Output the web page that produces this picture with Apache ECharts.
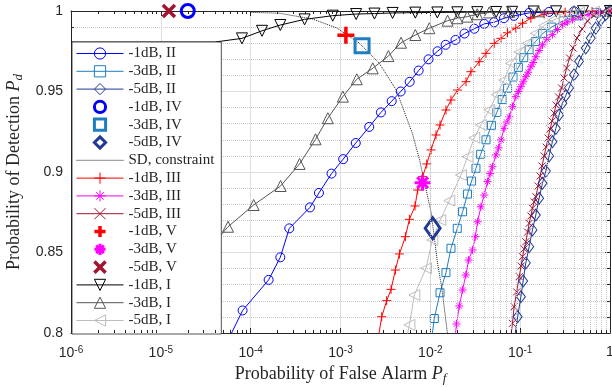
<!DOCTYPE html>
<html>
<head>
<meta charset="utf-8">
<script src="https://cdn.jsdelivr.net/npm/echarts@6/dist/echarts.min.js"></script>
<style>
html, body { margin: 0; padding: 0; background: #fff; }
#chart { width: 612px; height: 387px; }
</style>
</head>
<body>
<div id="chart"></div>
<script>
// ROC curves: log10(Pf) and Pd for every curve.
const lgPf_m1dB_II = [-4.30, -4.09, -3.80, -3.67, -3.57, -3.34, -3.24, -3.10, -2.97, -2.83, -2.68, -2.55, -2.43, -2.33, -2.23, -2.13, -2.02, -1.92, -1.83, -1.72, -1.62, -1.51, -1.40, -1.29, -1.18, -1.07, -0.90, -0.68, -0.40, 0];
const pd_m1dB_II = [0.790, 0.814, 0.833, 0.847, 0.865, 0.878, 0.887, 0.899, 0.908, 0.918, 0.928, 0.937, 0.944, 0.950, 0.956, 0.963, 0.970, 0.975, 0.979, 0.982, 0.986, 0.989, 0.992, 0.993, 0.9955, 0.997, 0.9988, 0.9994, 0.9998, 1];

const lgPf_m3dB_II = [-2.00, -1.956, -1.892, -1.826, -1.77, -1.70, -1.641, -1.586, -1.541, -1.492, -1.44, -1.38, -1.32, -1.26, -1.20, -1.14, -1.08, -1.02, -0.96, -0.90, -0.83, -0.75, -0.65, -0.52, -0.35, -0.15, 0];
const pd_m3dB_II = [0.790, 0.809, 0.825, 0.8375, 0.8526, 0.865, 0.8753, 0.8863, 0.8944, 0.9023, 0.911, 0.920, 0.929, 0.937, 0.945, 0.952, 0.959, 0.965, 0.971, 0.976, 0.981, 0.986, 0.990, 0.994, 0.997, 0.999, 1];

const lgPf_m5dB_II = [-1.08, -1.028, -0.992, -0.967, -0.937, -0.900, -0.863, -0.826, -0.789, -0.752, -0.714, -0.678, -0.641, -0.603, -0.567, -0.530, -0.492, -0.456, -0.400, -0.344, -0.270, -0.214, -0.159, -0.103, -0.048, 0];
const pd_m5dB_II = [0.790, 0.8101, 0.8225, 0.8323, 0.8435, 0.8536, 0.864, 0.8733, 0.8837, 0.893, 0.9006, 0.910, 0.9188, 0.9271, 0.9354, 0.9427, 0.9475, 0.9522, 0.9604, 0.9688, 0.977, 0.9832, 0.9894, 0.9946, 0.9977, 1];

// single operating points: order -1dB, -3dB, -5dB
const lgPf_IV = [-4.70, -2.76, -1.974];
const pd_IV = [1.0, 0.9784, 0.865];
const lgPf_V = [-2.94, -2.086, -4.91];
const pd_V = [0.985, 0.8934, 1.0];

const lgPf_SD = [-4.0, -3.68, -3.31, -3.04, -2.79, -2.57, -2.38, -2.20, -2.12, -2.07, -1.99, -1.92, -1.87, -1.81, -1.78];
const pd_SD = [0.9992, 0.9986, 0.995, 0.9894, 0.980, 0.9677, 0.951, 0.924, 0.9075, 0.895, 0.8745, 0.8435, 0.827, 0.800, 0.785];

const lgPf_m1dB_III = [-2.60, -2.541, -2.486, -2.437, -2.389, -2.344, -2.278, -2.233, -2.17, -2.141, -2.086, -2.04, -1.992, -1.937, -1.892, -1.826, -1.77, -1.697, -1.603, -1.548, -1.456, -1.381, -1.289, -1.214, -1.141, -1.048, -0.974, -0.881, -0.733, -0.50, -0.20, 0];
const pd_m1dB_III = [0.790, 0.8101, 0.8201, 0.8271, 0.8391, 0.8491, 0.8598, 0.8706, 0.8789, 0.8888, 0.8971, 0.905, 0.9137, 0.923, 0.9292, 0.9385, 0.9447, 0.9509, 0.9561, 0.9623, 0.9685, 0.9737, 0.9799, 0.983, 0.9865, 0.9893, 0.9924, 0.9955, 0.9981, 0.9993, 0.9998, 1];

const lgPf_m3dB_III = [-1.74, -1.708, -1.678, -1.641, -1.605, -1.574, -1.53, -1.50, -1.474, -1.437, -1.40, -1.363, -1.335, -1.308, -1.27, -1.24, -1.214, -1.178, -1.15, -1.122, -1.086, -1.048, -1.02, -0.992, -0.965, -0.937, -0.91, -0.881, -0.855, -0.826, -0.789, -0.752, -0.70, -0.641, -0.585, -0.53, -0.475, -0.419, -0.33, -0.233, -0.12, 0];
const pd_m3dB_III = [0.790, 0.8056, 0.8168, 0.8267, 0.836, 0.8453, 0.8516, 0.8598, 0.8691, 0.8784, 0.8857, 0.894, 0.899, 0.9033, 0.9106, 0.915, 0.9199, 0.9271, 0.931, 0.9343, 0.9406, 0.9468, 0.950, 0.953, 0.956, 0.9592, 0.962, 0.9654, 0.968, 0.9716, 0.9755, 0.979, 0.9825, 0.9853, 0.9885, 0.9915, 0.9932, 0.9946, 0.9965, 0.9978, 0.9992, 1];

const lgPf_m5dB_III = [-1.12, -1.086, -1.067, -1.039, -1.011, -0.989, -0.974, -0.956, -0.937, -0.917, -0.900, -0.881, -0.863, -0.844, -0.826, -0.800, -0.778, -0.756, -0.733, -0.711, -0.689, -0.667, -0.644, -0.622, -0.600, -0.572, -0.539, -0.511, -0.483, -0.450, -0.411, -0.367, -0.311, -0.250, -0.178, -0.089, 0];
const pd_m5dB_III = [0.790, 0.806, 0.8163, 0.8255, 0.835, 0.8416, 0.8474, 0.8522, 0.8567, 0.8627, 0.8681, 0.8727, 0.8775, 0.8814, 0.8847, 0.8913, 0.8975, 0.9037, 0.910, 0.9155, 0.9211, 0.9267, 0.9317, 0.9366, 0.9416, 0.9466, 0.9522, 0.9584, 0.9646, 0.9708, 0.977, 0.9832, 0.9888, 0.9938, 0.9972, 0.9991, 1];

// the first two points of -1dB, I carry no marker
const lgPf_m1dB_I = [-6.0, -4.40, -4.097, -3.874, -3.67, -3.40, -3.086, -2.826, -2.622, -2.42, -2.167, -1.922, -1.70, -1.478, -1.267, -1.089, -0.85, -0.60, -0.30, 0];
const pd_m1dB_I = [0.9807, 0.9807, 0.983, 0.9877, 0.9913, 0.9948, 0.9971, 0.9981, 0.9984, 0.9988, 0.999, 0.9991, 0.9992, 0.9993, 0.9994, 0.9995, 0.9997, 0.9998, 0.9999, 1];

const lgPf_m3dB_I = [-4.75, -4.50, -4.252, -3.967, -3.667, -3.456, -3.278, -3.141, -2.974, -2.819, -2.641, -2.467, -2.326, -2.167, -2.011, -1.808, -1.70, -1.589, -1.478, -1.344, -1.122, -0.80, -0.40, 0];
const pd_m3dB_I = [0.830, 0.850, 0.866, 0.8795, 0.8913, 0.905, 0.9203, 0.9334, 0.9468, 0.9576, 0.9644, 0.972, 0.9803, 0.9851, 0.9893, 0.994, 0.9955, 0.9965, 0.998, 0.9991, 0.9995, 0.9998, 0.9999, 1];

const lgPf_m5dB_I = [-2.29, -2.233, -2.178, -2.048, -1.978, -1.889, -1.789, -1.659, -1.586, -1.511, -1.437, -1.344, -1.26, -1.178, -1.103, -1.01, -0.919, -0.826, -0.733, -0.622, -0.50, -0.344, -0.178, 0];
const pd_m5dB_I = [0.790, 0.805, 0.8236, 0.8402, 0.8578, 0.8702, 0.8822, 0.8981, 0.9095, 0.9213, 0.9292, 0.9385, 0.948, 0.9571, 0.9675, 0.9745, 0.9799, 0.9861, 0.991, 0.9947, 0.9972, 0.9989, 0.9996, 1];

const xTickExp = [-6, -5, -4, -3, -2, -1, 0];

const INK = '#262626';
const SERIF = 'Liberation Serif';
const SANS = 'Liberation Sans';

const col = {
	blue: '#0000FF', lblue: '#1F7EC2', navy: '#203A94',
	red: '#FF0000', magenta: '#FF00FF', maroon: '#A2142F',
	black: '#000000', dgray: '#555555', lgray: '#BDBDBD', sd: '#1A1A1A',
};

const sym = {
	circle: 'circle',
	square: 'rect',
	diamond: 'diamond',
	plus: 'path://M5,0L5,10M0,5L10,5',
	cross: 'path://M0,0L10,10M10,0L0,10',
	star: 'path://M5,0L5,10M0,5L10,5M1.6,1.6L8.4,8.4M8.4,1.6L1.6,8.4',
	triUp: 'path://M5,0L10,8.66L0,8.66Z',
	triDown: 'path://M0,0L10,0L5,8.66Z',
	triLeft: 'path://M8.66,0L8.66,10L0,5Z',
};

const toPts = (lg, pd, bare) =>
	lg.map((e, i) => (i < (bare || 0) ? { value: [Math.pow(10, e), pd[i]], symbol: 'none' } : [Math.pow(10, e), pd[i]]));

// legend order = draw order
const defs = [
	{ name: '-1dB, II', data: toPts(lgPf_m1dB_II, pd_m1dB_II), color: col.blue, symbol: sym.circle, size: 9 },
	{ name: '-3dB, II', data: toPts(lgPf_m3dB_II, pd_m3dB_II), color: col.lblue, symbol: sym.square, size: 8 },
	{ name: '-5dB, II', data: toPts(lgPf_m5dB_II, pd_m5dB_II), color: col.navy, symbol: sym.diamond, size: [9, 12] },
	{ name: '-1dB, IV', data: toPts([lgPf_IV[0]], [pd_IV[0]]), color: col.blue, symbol: sym.circle, size: 13, bw: 3, point: true },
	{ name: '-3dB, IV', data: toPts([lgPf_IV[1]], [pd_IV[1]]), color: col.lblue, symbol: sym.square, size: 14, bw: 3, point: true },
	{ name: '-5dB, IV', data: toPts([lgPf_IV[2]], [pd_IV[2]]), color: col.navy, symbol: sym.diamond, size: [15, 21], bw: 3, point: true },
	{ name: 'SD, constraint', data: toPts(lgPf_SD, pd_SD), color: col.sd, symbol: 'none', size: 0, dotted: true },
	{ name: '-1dB, III', data: toPts(lgPf_m1dB_III, pd_m1dB_III), color: col.red, symbol: sym.plus, size: 9 },
	{ name: '-3dB, III', data: toPts(lgPf_m3dB_III, pd_m3dB_III), color: col.magenta, symbol: sym.star, size: 8 },
	{ name: '-5dB, III', data: toPts(lgPf_m5dB_III, pd_m5dB_III), color: col.maroon, symbol: sym.cross, size: 7 },
	{ name: '-1dB, V', data: toPts([lgPf_V[0]], [pd_V[0]]), color: col.red, symbol: sym.plus, size: 17, bw: 3.5, point: true },
	{ name: '-3dB, V', data: toPts([lgPf_V[1]], [pd_V[1]]), color: col.magenta, symbol: sym.star, size: 16, bw: 3, point: true },
	{ name: '-5dB, V', data: toPts([lgPf_V[2]], [pd_V[2]]), color: col.maroon, symbol: sym.cross, size: 12, bw: 3.5, point: true },
	{ name: '-1dB, I', data: toPts(lgPf_m1dB_I, pd_m1dB_I, 2), color: col.black, symbol: sym.triDown, size: 11 },
	{ name: '-3dB, I', data: toPts(lgPf_m3dB_I, pd_m3dB_I), color: col.dgray, symbol: sym.triUp, size: 11 },
	{ name: '-5dB, I', data: toPts(lgPf_m5dB_I, pd_m5dB_I), color: col.lgray, symbol: sym.triLeft, size: 11 },
];

const clear = 'rgba(0,0,0,0)';

const curves = defs.map((d) => ({
	name: d.name,
	type: 'line',
	data: d.data,
	symbol: d.symbol,
	symbolSize: d.size,
	showSymbol: d.symbol !== 'none',
	clip: !d.point,
	z: d.point ? 3 : 2,
	lineStyle: { color: d.color, width: d.point ? 0 : 1, type: d.dotted ? 'dotted' : 'solid' },
	itemStyle: { color: clear, borderColor: d.color, borderWidth: d.bw || 1 },
	emphasis: { disabled: true },
}));

// log-axis minor grid (2..9 x 10^k) and its inward ticks
const minorX = [];
for (let k = -6; k < 0; k++) for (let m = 2; m <= 9; m++) minorX.push(m * Math.pow(10, k));
const tickStyle = { color: INK, type: 'solid', width: 1 };
const gridSeries = {
	name: 'minor-grid',
	type: 'line',
	data: [],
	z: 1,
	silent: true,
	markLine: {
		silent: true,
		symbol: ['none', 'none'],
		label: { show: false },
		animation: false,
		lineStyle: { color: '#C8C8C8', type: 'dotted', width: 1 },
		data: [
			...minorX.map((v) => ({ xAxis: v })),
			...minorX.map((v) => [{ coord: [v, 0.8], lineStyle: tickStyle }, { coord: [v, 0.8019], lineStyle: tickStyle }]),
			...minorX.map((v) => [{ coord: [v, 1], lineStyle: tickStyle }, { coord: [v, 0.9981], lineStyle: tickStyle }]),
		],
	},
};

const xLabel = (v) => {
	const e = Math.round(Math.log10(v));
	if (!xTickExp.includes(e)) return '';
	return e === 0 ? '{b|1}' : '{b|10}{s|' + e + '}';
};

const nameRich = (size) => ({
	t: { fontFamily: SERIF, fontSize: size, color: INK },
	p: { fontFamily: SERIF, fontSize: size, fontStyle: 'italic', color: INK },
	s: { fontFamily: SERIF, fontSize: 13, fontStyle: 'italic', color: INK, padding: [9, 0, 0, 0] },
});

const axisInk = { lineStyle: { color: INK, width: 1 } };

const option = {
	animation: false,
	backgroundColor: '#fff',
	grid: { left: 71, right: 2, top: 11, bottom: 54, outerBoundsMode: 'none', containLabel: false },
	legend: {
		orient: 'vertical',
		left: 72,
		top: 42,
		itemWidth: 47,
		itemHeight: 14,
		itemGap: 2.8,
		padding: [4, 7, 6, 4],
		backgroundColor: '#fff',
		borderColor: INK,
		borderWidth: 0.8,
		borderRadius: 0,
		selectedMode: false,
		textStyle: { fontFamily: SERIF, fontSize: 15, lineHeight: 15, color: INK },
		data: defs.map((d) => ({
			name: d.name,
			itemStyle: d.symbol === 'none'
				? { color: clear, borderColor: clear, borderWidth: 0 }
				: { color: clear, borderColor: d.color, borderWidth: d.bw || 1 },
			lineStyle: { color: d.color, width: d.point ? 0 : 1, type: d.dotted ? 'dotted' : 'solid' },
		})),
	},
	xAxis: [
		{
			type: 'log',
			logBase: 10,
			min: 1e-6,
			max: 1,
			position: 'bottom',
			axisLine: { show: true, ...axisInk },
			axisTick: { show: true, inside: true, length: 5, ...axisInk },
			axisLabel: {
				margin: 12,
				formatter: xLabel,
				rich: {
					b: { fontFamily: SANS, fontSize: 14, color: INK },
					s: { fontFamily: SANS, fontSize: 10, color: INK, padding: [0, 0, 7, 0] },
				},
			},
			splitLine: { show: true, lineStyle: { color: '#DEDEDE', width: 1 } },
			name: '{t|Probability of False Alarm }{p|P}{s|f}',
			nameLocation: 'middle',
			nameGap: 30,
			nameTextStyle: { rich: nameRich(18) },
		},
		{
			type: 'log',
			logBase: 10,
			min: 1e-6,
			max: 1,
			position: 'top',
			axisLine: { show: true, ...axisInk },
			axisTick: { show: true, inside: true, length: 5, ...axisInk },
			axisLabel: { show: false },
			splitLine: { show: false },
		},
	],
	yAxis: [
		{
			type: 'value',
			min: 0.8,
			max: 1,
			interval: 0.05,
			position: 'left',
			axisLine: { show: true, ...axisInk },
			axisTick: { show: true, inside: true, length: 5, ...axisInk },
			minorTick: { show: true, splitNumber: 5, length: 3, ...axisInk },
			axisLabel: {
				margin: 8,
				fontFamily: SANS,
				fontSize: 14,
				color: INK,
				formatter: (v) => String(parseFloat(v.toFixed(2))),
			},
			splitLine: { show: true, lineStyle: { color: '#DEDEDE', width: 1 } },
			minorSplitLine: { show: true, lineStyle: { color: '#C8C8C8', type: 'dotted', width: 1 } },
			name: '{t|Probability of Detection }{p|P}{s|d}',
			nameLocation: 'middle',
			nameGap: 40,
			nameTextStyle: { rich: nameRich(18) },
		},
		{
			type: 'value',
			min: 0.8,
			max: 1,
			interval: 0.05,
			position: 'right',
			axisLine: { show: true, ...axisInk },
			axisTick: { show: true, inside: true, length: 5, ...axisInk },
			minorTick: { show: true, splitNumber: 5, length: 3, ...axisInk },
			axisLabel: { show: false },
			splitLine: { show: false },
		},
	],
	series: [gridSeries, ...curves],
};

const chart = echarts.init(document.getElementById('chart'));
chart.setOption(option);
</script>
</body>
</html>
